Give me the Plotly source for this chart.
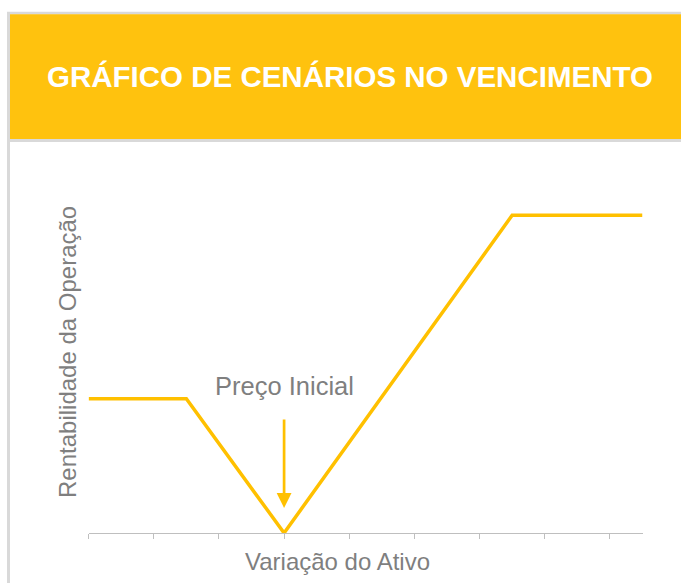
import plotly.graph_objects as go

# Data
asset_variation = [0, 1.5, 3, 6.5, 8.5]
profitability = [1.5, 1.5, 0, 3.55, 3.55]
tick_positions = [0, 1, 2, 3, 4, 5, 6, 7, 8]
initial_price_x = 3
arrow_tip_y = 0.28

title_text = "GRÁFICO DE CENÁRIOS NO VENCIMENTO"
x_title = "Variação do Ativo"
y_title = "Rentabilidade da Operação"
marker_label = "Preço Inicial"

OFF = 0
W, H = 681, 583
YELLOW = "#FFC20E"
LINE = "#FFC000"
GRAY_TXT = "#7F7F7F"
BORDER = "#D9D9D9"


def px_x(p):
    return (p - OFF) / W


def px_y(p):
    return 1 - (p - OFF) / H


fig = go.Figure()
fig.add_trace(go.Scatter(
    x=asset_variation, y=profitability, mode="lines",
    line=dict(color=LINE, width=3.5), hoverinfo="skip", showlegend=False,
))

# plot area (page pixels)
x0p, x1p = 88.6, 642.5
y_bot, y_top = 533, 175

fig.update_layout(
    width=W, height=H, autosize=False,
    margin=dict(l=0, r=0, t=0, b=0),
    paper_bgcolor="white", plot_bgcolor="white",
    showlegend=False,
    font=dict(family="Liberation Sans, Arial, sans-serif"),
    xaxis=dict(
        domain=[px_x(x0p), px_x(x1p)], range=[0, 8.5],
        showgrid=False, zeroline=False, showline=True,
        linecolor="#BFBFBF", linewidth=1.2,
        tickmode="array", tickvals=tick_positions, ticks="outside",
        ticklen=5, tickcolor="#BFBFBF", tickwidth=1, showticklabels=False,
        fixedrange=True,
    ),
    yaxis=dict(
        domain=[px_y(y_bot), px_y(y_top)], range=[0, 4],
        showgrid=False, zeroline=False, showline=False,
        showticklabels=False, ticks="", fixedrange=True,
    ),
    shapes=[
        dict(type="rect", xref="paper", yref="paper",
             x0=px_x(7), x1=px_x(10), y0=0, y1=px_y(12),
             fillcolor=BORDER, line=dict(width=0), layer="below"),
        dict(type="rect", xref="paper", yref="paper",
             x0=px_x(7), x1=1, y0=px_y(14.5), y1=px_y(11.7),
             fillcolor=BORDER, line=dict(width=0), layer="below"),
        dict(type="rect", xref="paper", yref="paper",
             x0=px_x(10), x1=1, y0=px_y(139), y1=px_y(14.3),
             fillcolor=YELLOW, line=dict(width=0), layer="below"),
        dict(type="rect", xref="paper", yref="paper",
             x0=px_x(10), x1=1, y0=px_y(142), y1=px_y(139),
             fillcolor=BORDER, line=dict(width=0), layer="below"),
    ],
    annotations=[
        dict(text=f"<b>{title_text}</b>", xref="paper", yref="paper",
             x=px_x(350), y=px_y(77), xanchor="center", yanchor="middle",
             showarrow=False, font=dict(size=29.5, color="white",
                                        family="Liberation Sans, Arial, sans-serif")),
        dict(text=x_title, xref="paper", yref="paper",
             x=px_x(337), y=px_y(561), xanchor="center", yanchor="middle",
             showarrow=False, font=dict(size=24, color=GRAY_TXT)),
        dict(text=y_title, xref="paper", yref="paper",
             x=px_x(67), y=px_y(352), xanchor="center", yanchor="middle",
             textangle=-90, showarrow=False, font=dict(size=24, color=GRAY_TXT)),
        dict(text=marker_label, xref="x", yref="y",
             x=initial_price_x, y=(533 - 386) / 89.5, xanchor="center", yanchor="middle",
             showarrow=False, font=dict(size=25.5, color=GRAY_TXT)),
        dict(text="", xref="x", yref="y", x=initial_price_x, y=arrow_tip_y,
             ax=0, ay=-90, axref="pixel", ayref="pixel",
             showarrow=True, arrowhead=2, arrowsize=1.1, arrowwidth=2.7,
             arrowcolor=LINE, standoff=0),
    ],
)

fig.write_html(
    "out.html",
    config={"displayModeBar": False, "staticPlot": True},
    post_script="document.body.style.margin='0';document.body.style.overflow='hidden';",
)
